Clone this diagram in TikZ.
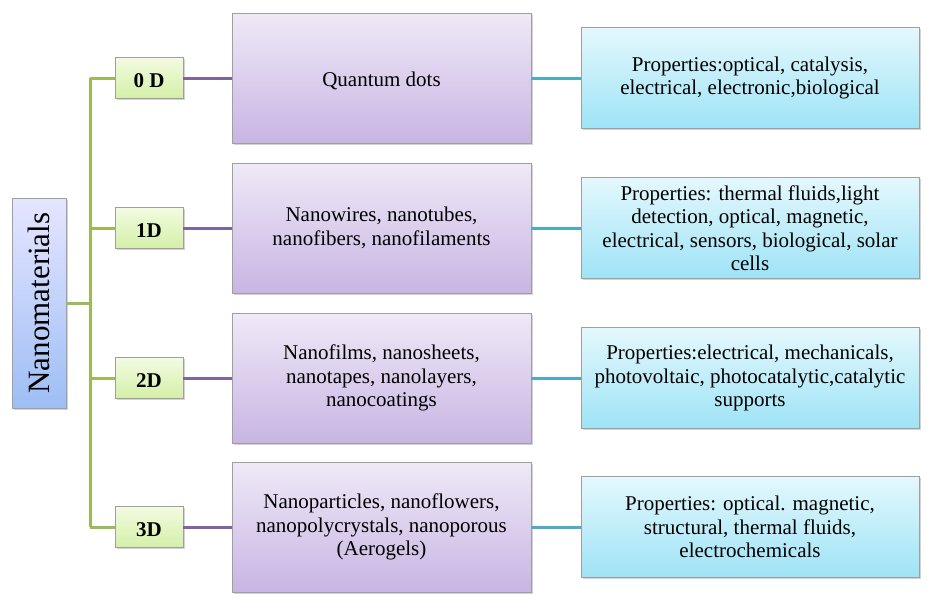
\documentclass[tikz,border=0pt]{standalone}
\usepackage{fontspec}
\setmainfont{Liberation Serif}
\usetikzlibrary{shadows}

\definecolor{branchgreen}{RGB}{155,187,89}
\definecolor{branchpurple}{RGB}{128,100,162}
\definecolor{branchteal}{RGB}{75,172,198}

\begin{document}
\begin{tikzpicture}[x=1pt,y=-1pt,
  box/.style={draw=gray!75,line width=0.8pt,align=center,inner sep=0pt,
    drop shadow={shadow xshift=1.5pt,shadow yshift=-1.5pt,opacity=0.35},
    font=\fontsize{21}{23.5}\selectfont,
    execute at begin node={\rule{0pt}{20pt}}},
  root node/.style={box,minimum width=54pt,minimum height=210pt,
    top color=blue!10!white,bottom color={rgb,255:red,157;green,190;blue,245},
    font=\fontsize{31}{35}\selectfont,execute at begin node={}},
  dim node/.style={box,minimum width=68pt,minimum height=41pt,
    top color={rgb,255:red,243;green,251;blue,225},bottom color={rgb,255:red,212;green,239;blue,168},
    font=\bfseries\fontsize{21}{23.5}\selectfont},
  kind node/.style={box,minimum width=299pt,minimum height=130pt,
    top color={rgb,255:red,239;green,233;blue,247},bottom color={rgb,255:red,200;green,181;blue,227}},
  prop node/.style={box,minimum width=338pt,minimum height=101pt,
    top color={rgb,255:red,228;green,248;blue,253},bottom color={rgb,255:red,158;green,227;blue,246}},
  green line/.style={draw=branchgreen,line width=3pt},
  purple line/.style={draw=branchpurple,line width=3pt},
  teal line/.style={draw=branchteal,line width=3pt}]

  \useasboundingbox (0,0) rectangle (943,614);

  \node[root node] (nano) at (39,303) {\rotatebox{90}{Nanomaterials}};

  \node[dim node] (d0) at (149,78) {0 D};
  \node[dim node] (d1) at (149,228) {1D};
  \node[dim node] (d2) at (149,378) {2D};
  \node[dim node] (d3) at (149,527) {3D};

  \node[kind node] (k0) at (381.5,78) {Quantum dots};
  \node[kind node] (k1) at (381.5,228) {Nanowires, nanotubes,\\nanofibers, nanofilaments};
  \node[kind node] (k2) at (381.5,378) {Nanofilms, nanosheets,\\nanotapes, nanolayers,\\nanocoatings};
  \node[kind node] (k3) at (381.5,527) {Nanoparticles, nanoflowers,\\nanopolycrystals, nanoporous\\(Aerogels)};

  \node[prop node] (p0) at (750,78) {Properties:optical, catalysis,\\electrical, electronic,biological};
  \node[prop node] (p1) at (750,228) {Properties: thermal fluids,light\\detection, optical, magnetic,\\electrical, sensors, biological, solar\\cells};
  \node[prop node] (p2) at (750,378) {Properties:electrical, mechanicals,\\photovoltaic, photocatalytic,catalytic\\supports};
  \node[prop node] (p3) at (750,527) {Properties: optical. magnetic,\\structural, thermal fluids,\\electrochemicals};

  % green tree
  \coordinate (trunk) at (90,303);
  \draw[green line] (d0.west -| trunk) -- (d3.west -| trunk);
  \draw[green line] (nano.east) -- (trunk);
  \draw[green line] (d0.west -| trunk) -- (d0.west);
  \draw[green line] (d1.west -| trunk) -- (d1.west);
  \draw[green line] (d2.west -| trunk) -- (d2.west);
  \draw[green line] (d3.west -| trunk) -- (d3.west);

  % classes
  \draw[purple line] (d0) -- (k0);
  \draw[purple line] (d1) -- (k1);
  \draw[purple line] (d2) -- (k2);
  \draw[purple line] (d3) -- (k3);

  % properties
  \draw[teal line] (k0) -- (p0);
  \draw[teal line] (k1) -- (p1);
  \draw[teal line] (k2) -- (p2);
  \draw[teal line] (k3) -- (p3);

\end{tikzpicture}
\end{document}
